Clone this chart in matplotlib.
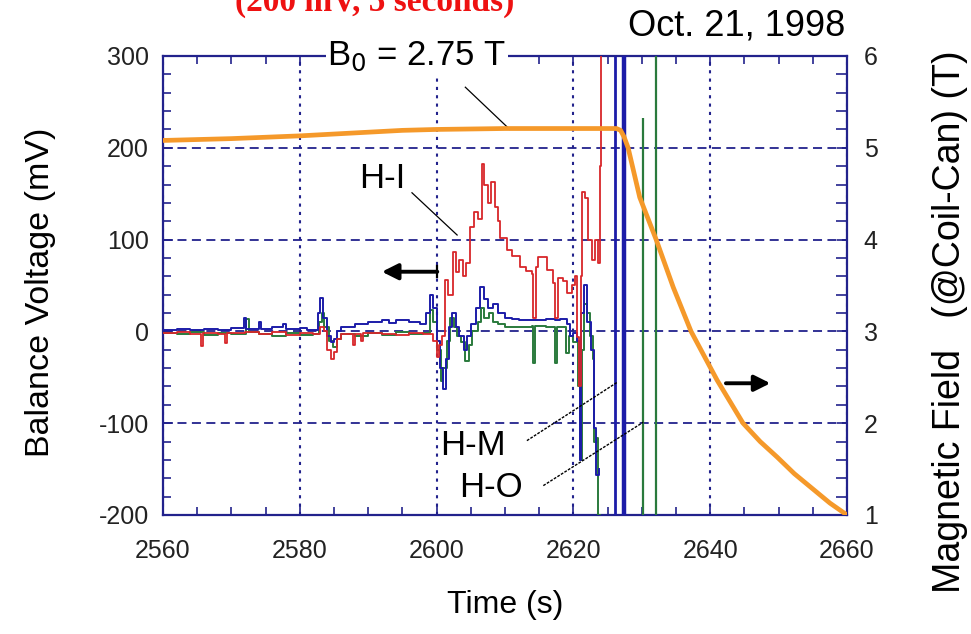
import matplotlib
matplotlib.use("Agg")
import matplotlib.pyplot as plt
from matplotlib.ticker import MultipleLocator

# ---------------- data ----------------
hi_t = [2560, 2562, 2564, 2565.5, 2565.8, 2568, 2569, 2569.3, 2572, 2574, 2576, 2578, 2580, 2582,
        2583, 2583.5, 2584, 2584.5, 2585, 2585.5, 2586, 2587.8, 2588.1, 2589, 2589.3, 2592, 2594,
        2596, 2598, 2599.5, 2600, 2600.4, 2600.8, 2601.2, 2601.6, 2602.4, 2602.8, 2603.3, 2603.8,
        2604.3, 2604.9, 2605.5, 2606, 2606.6, 2607, 2607.5, 2608, 2608.5, 2609, 2609.3, 2610.3,
        2611, 2612.2, 2613, 2613.9, 2614.1, 2614.5, 2614.8, 2616.1, 2617, 2617.3, 2617.8, 2618.5,
        2619, 2619.8, 2620.2, 2620.5, 2620.8, 2621.1, 2621.3, 2621.7, 2622.2, 2622.7, 2623.2,
        2623.6, 2623.9, 2624.1]
hi_v = [-2, -1, -3, -16, -2, -3, -13, -2, -1, -3, -1, -4, -2, -3,
        5, 0, -20, -30, -22, -8, -3, -15, -3, -10, -2, -3, -4,
        -2, -3, -10, -28, -15, -5, 56, 40, 86, 65, 78, 60,
        75, 114, 130, 122, 182, 160, 140, 163, 135, 120, 102, 89,
        82, 70, 66, 62, 15, 70, 81, 67, 53, 15, 58, 55,
        42, 50, 60, -6, -60, 60, 152, 145, 100, 78, 100,
        75, 180, 400]

hm_t = [2560, 2562, 2564, 2566, 2568, 2570, 2571.8, 2572.2, 2574, 2574.3, 2576, 2577.5, 2578,
        2580, 2581, 2582.6, 2583, 2583.4, 2584, 2584.5, 2585, 2585.5, 2586, 2588, 2590, 2592,
        2593, 2594, 2596, 2597.5, 2598.5, 2599, 2599.5, 2600, 2600.5, 2601, 2601.4, 2601.8,
        2602.2, 2602.8, 2603.3, 2604, 2604.5, 2605, 2605.8, 2606.4, 2607, 2607.5, 2608.2, 2609,
        2610, 2611, 2612, 2614, 2616, 2617.3, 2618, 2619, 2619.5, 2620, 2620.5, 2620.9, 2621.1,
        2621.5, 2622, 2622.5, 2623, 2623.3, 2623.7]
hm_v = [2, 3, 1, 3, 2, 4, 15, 3, 10, 3, 5, 8, 3,
        4, 2, 20, 36, 15, -5, -12, -8, 0, 5, 8, 10, 12,
        9, 12, 10, 8, 20, 40, 25, -10, -40, -63, -30, 5,
        20, 5, -5, -20, -5, 8, 25, 48, 35, 25, 30, 20,
        15, 13, 12, 12, 13, 12, 14, 8, -5, -2, -10, -140, 20,
        50, 10, -20, -105, -156, -150]

ho_t = [2560, 2562, 2564, 2566, 2568, 2570, 2572.2, 2572.6, 2574, 2576, 2578, 2580, 2582,
        2582.8, 2583.2, 2583.6, 2584.2, 2584.8, 2585.4, 2586, 2588, 2590, 2592, 2594, 2596,
        2598, 2599, 2599.5, 2600, 2600.6, 2601, 2601.5, 2602, 2602.5, 2603, 2603.6, 2604.2,
        2604.7, 2605.2, 2606, 2606.5, 2607, 2607.6, 2608.3, 2609, 2610, 2612, 2614, 2614.1,
        2614.4, 2616, 2617.3, 2617.6, 2618.9, 2619.3, 2620, 2620.6, 2620.9, 2621.2, 2621.6,
        2622, 2622.4, 2622.8, 2623, 2623.4, 2623.6, 2623.9]
ho_v = [-2, -3, -1, -4, -2, -3, 14, -1, -3, -5, -2, -4, -3,
        10, 20, 5, -10, -17, -8, -3, -5, -2, -4, -1, -3,
        -2, 23, 10, -20, -54, -40, -10, 15, 5, -5, -12, -32,
        -15, 0, 10, 26, 15, 20, 10, 8, 5, 5, 6, -34,
        6, 5, -34, 5, -24, -5, -12, -60, -140, -20, 30,
        20, -5, -30, -120, -116, -200, -200]

# full-height spikes after the quench
hm_spike_t = [2626.1, 2627.4]
hm_spike_lo = [-200, -200]
hm_spike_hi = [300, 300]
ho_spike_t = [2630.2, 2632.1]
ho_spike_lo = [-200, -200]
ho_spike_hi = [232, 300]

# magnetic field (T), right axis
b_t = [2560, 2570, 2580, 2590, 2595, 2600, 2610, 2620, 2626.3, 2626.9, 2627.4, 2628.0,
       2629.7, 2632.1, 2634.6, 2637.2, 2641.0, 2644.8, 2647.3, 2649.8, 2652.3, 2654.9,
       2657.5, 2660]
b_v = [5.08, 5.10, 5.13, 5.17, 5.19, 5.20, 5.21, 5.21, 5.21, 5.19, 5.12, 5.0,
       4.46, 4.0, 3.48, 3.0, 2.47, 2.0, 1.80, 1.63, 1.45, 1.29,
       1.13, 1.0]

x_ticks = [2560, 2580, 2600, 2620, 2640, 2660]
y_ticks = [-200, -100, 0, 100, 200, 300]
y2_ticks = [1, 2, 3, 4, 5, 6]

# ---------------- style ----------------
NAVY = "#22228c"
RED = "#d8262a"
BLUE = "#1c1ca8"
GREEN = "#2a7a3c"
ORANGE = "#f5992a"
SANS = "Liberation Sans"

plt.rcParams["font.family"] = [SANS, "DejaVu Sans"]
plt.rcParams["axes.unicode_minus"] = False

fig = plt.figure(figsize=(9.71, 6.34), dpi=100)
W, H = 971, 634
ax = fig.add_axes([163 / W, 1 - 515 / H, 684 / W, 459 / H])
ax2 = ax.twinx()

ax.set_xlim(2560, 2660)
ax.set_ylim(-200, 300)
ax2.set_ylim(1, 6)

ax.set_xticks(x_ticks)
ax.set_yticks(y_ticks)
ax2.set_yticks(y2_ticks)
ax.xaxis.set_minor_locator(MultipleLocator(5))
ax.yaxis.set_minor_locator(MultipleLocator(20))
ax2.yaxis.set_minor_locator(MultipleLocator(0.2))

for a in (ax, ax2):
    for s in a.spines.values():
        s.set_color(NAVY)
        s.set_linewidth(1.6)
ax.spines["right"].set_visible(False)
for k in ("top", "bottom", "left"):
    ax2.spines[k].set_visible(False)

ax.tick_params(which="both", direction="in", color=NAVY, top=True, right=False,
               labelsize=18, labelcolor="#222222", width=1.2)
ax.tick_params(which="major", length=7)
ax.tick_params(axis="x", which="major", pad=17)
ax.tick_params(axis="y", which="major", pad=10)
ax.tick_params(which="minor", length=6)
ax2.tick_params(which="both", direction="in", color=NAVY, labelsize=18,
                labelcolor="#222222", width=1.2)
ax2.tick_params(which="major", length=7, pad=12)
ax2.tick_params(which="minor", length=8)

ax.yaxis.grid(True, which="major", color=NAVY, linestyle=(0, (5, 3)), linewidth=1.3)
ax.xaxis.grid(True, which="major", color=NAVY, linestyle=(0, (1.5, 2.5)), linewidth=1.5)
ax.set_axisbelow(True)

# traces
ax.plot(ho_t, ho_v, color=GREEN, lw=1.4, drawstyle="steps-post", zorder=3)
ax.plot(hm_t, hm_v, color=BLUE, lw=1.4, drawstyle="steps-post", zorder=3)
ax.plot(hi_t, hi_v, color=RED, lw=1.3, drawstyle="steps-post", zorder=3)
ax.vlines(hm_spike_t, hm_spike_lo, hm_spike_hi, color=BLUE, lw=[2.0, 3.2], zorder=3)
ax.vlines(ho_spike_t, ho_spike_lo, ho_spike_hi, color=GREEN, lw=1.6, zorder=3)

ax2.plot(b_t, b_v, color=ORANGE, lw=3.4, solid_capstyle="round", zorder=4)

# annotations
FS_ANN = 25
lead = dict(color="black", lw=0.9)
ax.text(2597.1, 300, r"B$_0$ = 2.75 T", fontsize=FS_ANN, ha="center", va="center",
        bbox=dict(facecolor="white", edgecolor="none", pad=1.0), zorder=10, clip_on=False)
ax.plot([2604.2, 2610.7], [266, 220], **lead, zorder=5)
ax.text(2592.0, 167, "H-I", fontsize=FS_ANN, ha="center", va="center")
ax.plot([2596.4, 2603.0], [151, 105], **lead, zorder=5)
ax.text(2605.3, -124, "H-M", fontsize=FS_ANN, ha="center", va="center")
ax.plot([2613.2, 2626.5], [-119, -55], color="black", lw=1.0, ls=(0, (2, 1)), zorder=5)
ax.text(2608.0, -170, "H-O", fontsize=FS_ANN, ha="center", va="center")
ax.plot([2615.6, 2630.2], [-168, -99], color="black", lw=1.0, ls=(0, (2, 1)), zorder=5)

ax.annotate("", xy=(2592.0, 65), xytext=(2600.1, 65),
            arrowprops=dict(arrowstyle="-|>", color="black", lw=2.8, mutation_scale=24,
                            shrinkA=0, shrinkB=0), zorder=6)
ax.plot([2600.1, 2600.1], [59, 71], color="black", lw=1.6, zorder=6)
ax.annotate("", xy=(2648.8, -56.5), xytext=(2642.3, -56.5),
            arrowprops=dict(arrowstyle="-|>", color="black", lw=2.8, mutation_scale=24,
                            shrinkA=0, shrinkB=0), zorder=6)

# labels
ax.set_xlabel("Time (s)", fontsize=23, labelpad=20)
fig.text(40 / W, 1 - 292 / H, "Balance Voltage (mV)", fontsize=24.5, rotation=90,
         ha="center", va="center")
fig.text(950 / W, 1 - 322 / H, "Magnetic Field   (@Coil-Can) (T)", fontsize=27, rotation=90,
         ha="center", va="center")
fig.text(737 / W, 1 - 26 / H, "Oct. 21, 1998", fontsize=26, ha="center", va="center")
fig.text(375 / W, 1 - 11 / H, "(200 mV, 5 seconds)", fontsize=24, color="#ee1111",
         fontweight="bold", family=["Liberation Serif", "DejaVu Serif"],
         ha="center", va="baseline")

fig.savefig("out.png", dpi=100)
